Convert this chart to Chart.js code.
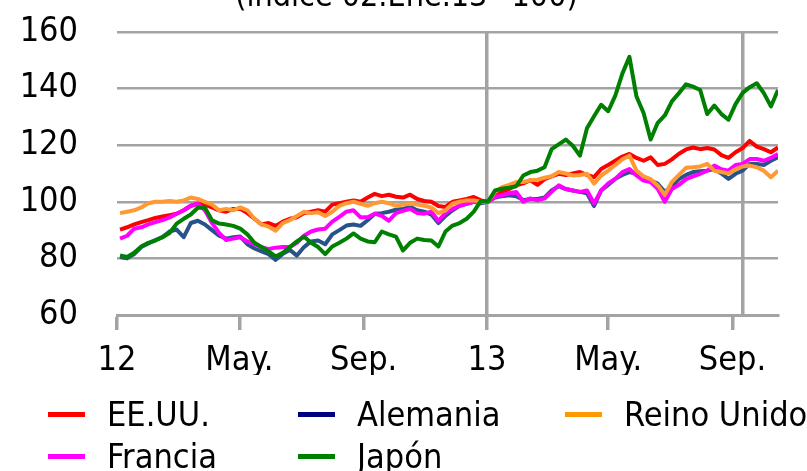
<!DOCTYPE html>
<html lang="es">
<head>
<meta charset="utf-8">
<title>Bolsas: índice 02.Ene.13=100</title>
<script src="https://cdn.jsdelivr.net/npm/chart.js@4.4.1/dist/chart.umd.min.js"></script>
<style>
  html, body { margin: 0; padding: 0; background: #fff; }
  #contenedor { position: relative; width: 807px; height: 471px; overflow: hidden; }
  #titulo {
    position: absolute; left: 0; top: -22px; width: 807px; text-align: center;
    font-family: 'DejaVu Sans Condensed', 'DejaVu Sans', sans-serif;
    font-size: 32px; line-height: 34px; color: #000; padding-left: 3px;
  }
  #leyenda {
    position: absolute; left: 48px; top: 393px;
    display: grid; grid-template-columns: 250px 267px auto;
    font-family: 'DejaVu Sans Condensed', 'DejaVu Sans', sans-serif;
    font-size: 34px; color: #000;
  }
  .item { display: flex; align-items: center; height: 42px; white-space: nowrap; }
  .muestra { display: inline-block; width: 37px; height: 5px; margin-right: 22px; }
</style>
</head>
<body>
<div id="contenedor">
  <canvas id="graficoBolsas" width="807" height="471"></canvas>
  <div id="titulo"></div>
  <div id="leyenda"></div>
</div>
<script>
// Datos semanales (miércoles), índice 02.Ene.13 = 100
const titulo = '(índice 02.Ene.13=100)';
const fechaInicio = '2012-01-04';
const numSemanas = 94;

const eeuu = [90.2,91.0,92.0,92.8,93.5,94.3,94.8,95.3,95.8,97.0, 98.6,99.3,99.0,98.0,97.0,96.5,97.5,97.5,96.0,94.0,
  92.0,92.5,91.5,93.0,94.0,94.5,96.0,96.5,97.0,96.5, 99.0,99.5,100.0,100.5,100.0,101.5,102.8,102.0,102.5,101.8,
  101.5,102.5,101.0,100.3,100.0,98.5,98.2,100.0,100.5,101.0, 101.7,100.5,100,102.0,103.5,104.5,105.8,106.5,107.6,106.0,
  108.0,109.0,109.9,109.5,110.0,110.5,109.5,108.7,111.6,113.0, 114.5,116.0,116.9,115.5,114.5,115.7,113.0,113.4,115.0,117.0,
  118.5,119.2,118.6,119.0,118.5,116.5,115.5,117.5,119.0,121.5, 119.5,118.6,117.5,119.2];

const alemania = [80.5,80.0,81.5,84.0,85.3,86.5,87.5,89.5,90.2,87.5, 92.5,93.3,92.0,90.0,88.0,87.0,87.5,87.7,85.0,83.5,
  82.5,81.5,79.5,81.6,83.0,81.0,84.0,86.0,86.3,85.0, 88.5,90.0,91.6,92.0,91.5,93.5,95.8,96.0,96.5,97.2,
  97.5,98.2,97.0,96.5,95.5,92.5,95.0,97.0,98.6,99.3, 100.0,99.5,100,101.5,102.0,102.3,102.0,100.6,101.0,101.0,
  101.5,104.0,105.5,104.5,104.0,103.5,103.0,98.5,104.0,106.0, 108.1,109.5,110.5,109.9,108.5,107.5,106.4,103.5,105.5,108.0,
  109.5,110.5,110.8,111.0,111.6,110.0,108.1,109.9,111.0,113.4, 113.4,113.0,114.5,115.7];

const reinoUnido = [96.0,96.5,97.0,98.0,99.5,100.0,100.0,100.3,100.0,100.5, 101.5,101.0,100.0,99.0,97.0,97.5,97.0,98.0,97.0,94.0,
  92.0,91.2,89.8,92.5,93.5,95.0,96.5,96.0,96.3,95.0, 96.5,98.6,99.5,100.0,99.3,98.6,99.5,100.0,99.5,98.6,
  99.0,99.3,99.0,98.6,98.0,96.0,97.0,99.3,100.0,100.5, 100.5,100.0,100,103.5,105.2,106.0,107.0,107.0,107.6,107.8,
  108.5,109.0,110.5,110.0,109.3,109.5,109.9,106.4,109.3,111.0, 113.0,115.0,116.3,111.0,109.0,108.0,105.8,102.5,107.0,109.5,
  112.0,112.2,112.5,113.4,111.0,110.5,110.0,111.5,112.5,112.8, 112.2,111.0,108.7,111.0];

const francia = [87.0,88.0,90.5,91.0,92.0,92.8,93.5,94.5,95.8,97.0, 98.6,99.3,97.0,92.5,89.0,86.5,87.0,87.5,86.0,85.0,
  84.0,83.3,83.8,84.0,84.0,85.5,88.0,89.5,90.2,90.5, 93.0,94.7,96.5,97.0,94.5,94.5,95.8,95.0,93.3,96.0,
  96.8,97.5,96.0,95.8,96.5,93.3,96.0,97.5,98.6,99.3, 100.0,99.8,100,101.7,102.3,103.0,103.5,100.0,101.2,100.5,
  101.2,103.5,105.8,104.5,104.0,103.5,104.0,99.4,104.0,106.5, 108.1,110.5,111.6,109.3,107.5,107.0,104.6,100.0,104.5,106.0,
  108.0,109.0,109.9,111.0,112.8,111.5,111.0,113.0,113.4,115.1, 115.1,114.5,115.5,116.9];

const japon = [81.0,80.5,82.0,84.2,85.5,86.3,87.5,89.0,92.3,94.0, 95.5,97.9,97.9,93.5,92.3,92.0,91.5,90.5,88.5,85.5,
  84.0,82.5,80.7,82.0,84.0,86.0,87.7,85.5,84.0,81.5, 84.2,85.5,87.0,88.8,87.0,86.0,85.7,89.5,88.5,87.7,
  82.8,85.5,87.0,86.5,86.3,84.2,89.5,91.6,92.5,94.0, 96.5,100.3,100,104.0,104.6,105.0,105.5,109.3,110.5,111.0,
  112.2,118.6,120.3,122.0,119.8,116.3,126.0,130.2,134.3,132.0, 137.5,145.3,151.2,137.2,131.4,122.0,127.9,130.5,135.5,138.4,
  141.5,140.7,139.5,131.0,134.0,131.0,129.0,134.5,138.5,140.5, 141.9,138.4,133.7,139.5];

// Eje horizontal
const etiquetasEje = ['12', 'May.', 'Sep.', '13', 'May.', 'Sep.'];
const fechasEje = ['2012-01-01', '2012-05-01', '2012-09-01', '2013-01-01', '2013-05-01', '2013-09-01'];
const fechaMarca = '2013-09-11';
const fechaFin = '2013-10-16';

const fuente = "'DejaVu Sans Condensed', 'DejaVu Sans', sans-serif";
const gris = '#a3a3a3';

// días transcurridos desde el 1 de enero de 2012
function dia(f) {
    const [a, m, d] = f.split('-').map(Number);
    return (Date.UTC(a, m - 1, d) - Date.UTC(2012, 0, 1)) / 86400000;
}

const dias = [];
for (let i = 0; i < numSemanas; i++) dias.push(dia(fechaInicio) + 7 * i);

const series = [
    { nombre: 'EE.UU.', datos: eeuu, linea: '#ff0000', muestra: '#ff0000', orden: 4 },
    { nombre: 'Alemania', datos: alemania, linea: '#27528a', muestra: '#000080', orden: 3 },
    { nombre: 'Reino Unido', datos: reinoUnido, linea: '#ff9933', muestra: '#ff9900', orden: 1 },
    { nombre: 'Francia', datos: francia, linea: '#ff00ff', muestra: '#ff00ff', orden: 2 },
    { nombre: 'Japón', datos: japon, linea: '#008000', muestra: '#008000', orden: 0 }
];

const diaAnio13 = dia('2013-01-01');
const diaMarca = dia(fechaMarca);

document.getElementById('titulo').textContent = titulo;

const grafico = new Chart(document.getElementById('graficoBolsas'), {
    type: 'line',
    data: {
        datasets: series.map(s => ({
            label: s.nombre,
            data: s.datos.map((v, i) => ({ x: dias[i], y: v })),
            borderColor: s.linea,
            backgroundColor: s.linea,
            borderWidth: 4,
            pointRadius: 0,
            tension: 0,
            borderJoinStyle: 'round',
            order: s.orden
        }))
    },
    options: {
        responsive: false,
        animation: false,
        layout: { padding: { top: 32, right: 29, bottom: 96, left: 0 } },
        plugins: {
            legend: { display: false },
            tooltip: { enabled: false },
            title: { display: false }
        },
        scales: {
            x: {
                type: 'linear',
                min: 0,
                max: dia(fechaFin),
                afterBuildTicks: ax => {
                    ax.ticks = fechasEje.map(f => ({ value: dia(f) })).concat([{ value: diaMarca }]);
                },
                afterFit: ax => { ax.height = 60; },
                border: { display: true, color: gris, width: 3 },
                grid: {
                    color: c => (c.tick && (c.tick.value === diaAnio13 || c.tick.value === diaMarca)) ? gris : 'rgba(0,0,0,0)',
                    tickColor: c => (c.tick && c.tick.value === diaMarca) ? 'rgba(0,0,0,0)' : gris,
                    lineWidth: 3.5,
                    tickLength: 15
                },
                ticks: {
                    autoSkip: false,
                    maxRotation: 0,
                    padding: 11,
                    color: '#000',
                    font: { family: fuente, size: 34 },
                    callback: v => {
                        const i = fechasEje.findIndex(f => dia(f) === v);
                        return i >= 0 ? etiquetasEje[i] : '';
                    }
                }
            },
            y: {
                min: 60,
                max: 160,
                // ancho fijo del eje; la separación de las etiquetas no debe empujar el área hacia abajo
                afterFit: ax => {
                    ax.width = 117;
                    ax.paddingTop = 20;
                    ax.paddingBottom = 20;
                },
                border: { display: false },
                grid: { color: gris, lineWidth: 2.5, drawTicks: false },
                ticks: {
                    stepSize: 20,
                    padding: 39,
                    color: '#000',
                    font: { family: fuente, size: 34 }
                }
            }
        }
    }
});

// Leyenda en tres columnas, como en el original
const leyenda = document.getElementById('leyenda');
series.forEach(s => {
    const item = document.createElement('div');
    item.className = 'item';
    const muestra = document.createElement('span');
    muestra.className = 'muestra';
    muestra.style.background = s.muestra;
    item.appendChild(muestra);
    item.appendChild(document.createTextNode(s.nombre));
    leyenda.appendChild(item);
});
</script>
</body>
</html>
